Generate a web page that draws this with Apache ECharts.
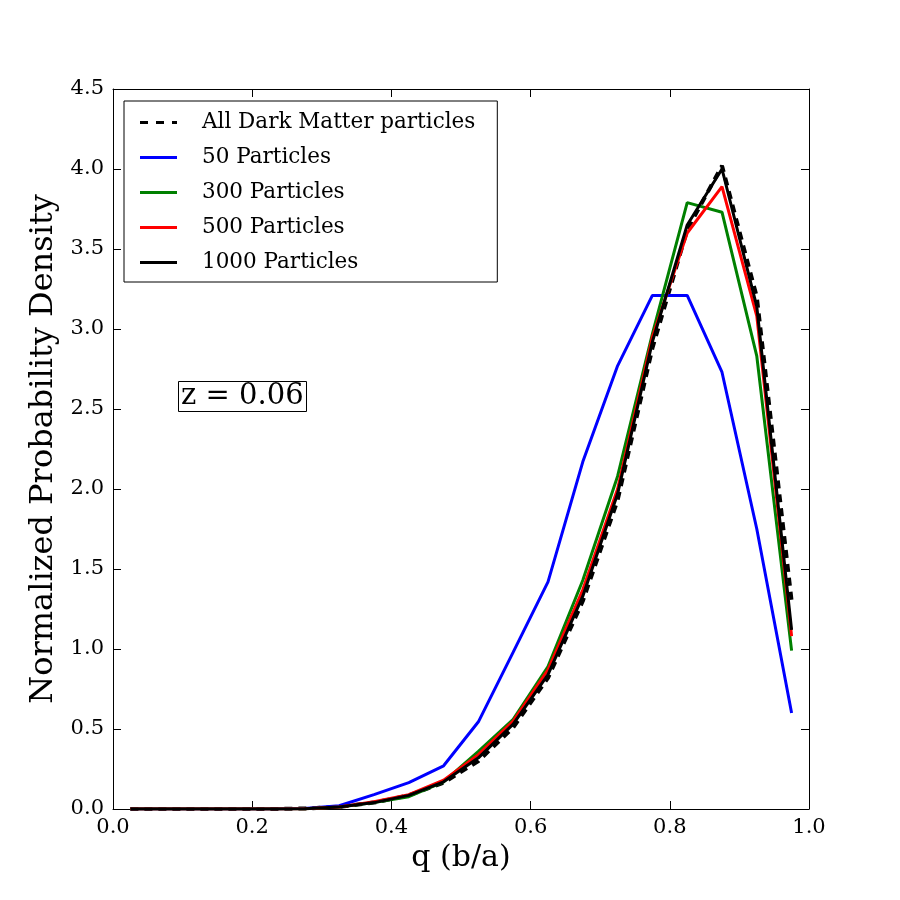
<!DOCTYPE html>
<html>
<head>
<meta charset="utf-8">
<script src="https://cdn.jsdelivr.net/npm/echarts@6/dist/echarts.min.js"></script>
<style>html,body{margin:0;padding:0;background:#fff;}#c{width:900px;height:900px;}</style>
</head>
<body>
<div id="c"></div>
<script>
const qCenters = [0.025,0.075,0.125,0.175,0.225,0.275,0.325,0.375,0.425,0.475,0.525,0.575,0.625,0.675,0.725,0.775,0.825,0.875,0.925,0.975];
const allDM   = [0,0,0,0,0,0.003,0.013,0.04,0.085,0.165,0.30,0.51,0.82,1.30,1.93,2.88,3.62,4.02,3.20,1.30];
const p50     = [0,0,0,0,0,0.003,0.02,0.09,0.165,0.27,0.545,0.98,1.42,2.17,2.77,3.21,3.21,2.73,1.75,0.60];
const p300    = [0,0,0,0,0,0.002,0.012,0.04,0.077,0.17,0.36,0.56,0.89,1.43,2.08,2.97,3.79,3.73,2.83,0.99];
const p500    = [0,0,0,0,0,0.002,0.013,0.045,0.09,0.18,0.34,0.55,0.87,1.37,2.00,2.95,3.60,3.89,3.08,1.08];
const p1000   = [0,0,0,0,0,0.002,0.012,0.04,0.085,0.17,0.32,0.53,0.84,1.33,1.97,2.92,3.65,4.00,3.14,1.12];
const seriesNames = ['All Dark Matter particles','50 Particles','300 Particles','500 Particles','1000 Particles'];
const annotation = 'z = 0.06';

const font = 'DejaVu Serif';
function pairs(ys){ return qCenters.map((x,i)=>[x, ys[i]]); }
const tickStyle = {show:true, inside:true, length:8, lineStyle:{color:'#000', width:1}};
const axisLine = {show:true, onZero:false, lineStyle:{color:'#000', width:1}};
const dashIcon = 'path://M0,0h8v3h-8z M16,0h8v3h-8z M32,0h5v3h-5z';
const solidIcon = 'path://M0,0h37v3h-37z';

const chart = echarts.init(document.getElementById('c'), null, {renderer:'canvas'});
chart.setOption({
  backgroundColor:'#fff',
  animation:false,
  grid:{left:113, right:91, top:89, bottom:91, containLabel:false},
  title:{
    text: annotation,
    left:178, top:381,
    padding:[1,3,1,3],
    borderColor:'#000', borderWidth:1,
    textStyle:{fontFamily:font, fontSize:29, fontWeight:'normal', color:'#000'}
  },
  legend:{
    orient:'vertical',
    left:124, top:101,
    padding:[10,22,8,16],
    itemGap:12,
    itemWidth:37, itemHeight:3,
    borderColor:'#000', borderWidth:1,
    backgroundColor:'#fff',
    textStyle:{fontFamily:font, fontSize:21.5, color:'#000', lineHeight:23, padding:[0,0,0,20]},
    data: seriesNames.map((n,i)=>({name:n, icon: i===0 ? dashIcon : solidIcon}))
  },
  xAxis:[{
    type:'value', min:0, max:1, interval:0.2,
    axisLine:axisLine, axisTick:tickStyle, splitLine:{show:false},
    axisLabel:{fontFamily:font, fontSize:21, color:'#000', margin:8, formatter:v=>v.toFixed(1)},
    name:'q (b/a)', nameLocation:'middle', nameGap:34,
    nameTextStyle:{fontFamily:font, fontSize:30, color:'#000'}
  },{
    type:'value', position:'top', min:0, max:1, interval:0.2,
    axisLine:axisLine, axisTick:tickStyle, splitLine:{show:false}, axisLabel:{show:false}
  }],
  yAxis:[{
    type:'value', min:0, max:4.5, interval:0.5,
    axisLine:axisLine, axisTick:tickStyle, splitLine:{show:false},
    axisLabel:{fontFamily:font, fontSize:21, color:'#000', margin:9, formatter:v=>v.toFixed(1)},
    name:'Normalized Probability Density', nameLocation:'middle', nameGap:52,
    nameTextStyle:{fontFamily:font, fontSize:32, color:'#000'}
  },{
    type:'value', position:'right', min:0, max:4.5, interval:0.5,
    axisLine:axisLine, axisTick:tickStyle, splitLine:{show:false}, axisLabel:{show:false}
  }],
  series:[
    {name:seriesNames[0], type:'line', data:pairs(allDM), symbol:'none', color:'#000',
     lineStyle:{color:'#000', width:4, type:[8,6]}, z:2},
    {name:seriesNames[1], type:'line', data:pairs(p50), symbol:'none', color:'#0000ff',
     lineStyle:{color:'#0000ff', width:3}, z:3},
    {name:seriesNames[2], type:'line', data:pairs(p300), symbol:'none', color:'#008000',
     lineStyle:{color:'#008000', width:3}, z:4},
    {name:seriesNames[3], type:'line', data:pairs(p500), symbol:'none', color:'#ff0000',
     lineStyle:{color:'#ff0000', width:3}, z:5},
    {name:seriesNames[4], type:'line', data:pairs(p1000), symbol:'none', color:'#000',
     lineStyle:{color:'#000', width:3}, z:6}
  ]
});
</script>
</body>
</html>
